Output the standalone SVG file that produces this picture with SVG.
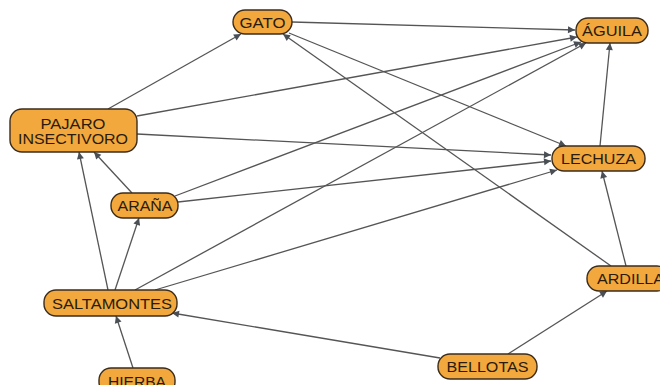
<svg xmlns="http://www.w3.org/2000/svg" width="660" height="385" viewBox="0 0 660 385">
<style>
.n rect{fill:#F2A83C;stroke:#3b2c1c;stroke-width:1.4}
.n text{font-family:"Liberation Sans",Arial,sans-serif;font-size:15.5px;fill:#2a1b0c;text-anchor:middle}
.e line{stroke:#555;stroke-width:1.3;marker-end:url(#a)}
</style>
<defs>
<marker id="a" viewBox="0 0 10 10" refX="10" refY="5" markerWidth="7" markerHeight="7" markerUnits="userSpaceOnUse" orient="auto" overflow="visible">
<path d="M0,0 L10,5 L0,10 z" fill="#4a4f55"/>
</marker>
</defs>
<rect width="660" height="385" fill="#fff"/>
<g id="connectors" class="e">
<line x1="108" y1="109" x2="241" y2="34"/>
<line x1="137" y1="116" x2="577" y2="37"/>
<line x1="137" y1="134" x2="551" y2="155"/>
<line x1="292" y1="22" x2="575" y2="30"/>
<line x1="289" y1="33" x2="566" y2="146"/>
<line x1="611" y1="266" x2="283" y2="34"/>
<line x1="132" y1="193" x2="94" y2="152"/>
<line x1="175" y1="196" x2="581" y2="42"/>
<line x1="178" y1="202" x2="551" y2="161"/>
<line x1="108" y1="290" x2="79" y2="152"/>
<line x1="115" y1="290" x2="139" y2="218"/>
<line x1="135" y1="290" x2="586" y2="43"/>
<line x1="155" y1="290" x2="557" y2="170"/>
<line x1="133" y1="368" x2="116" y2="316"/>
<line x1="440" y1="358" x2="172" y2="313"/>
<line x1="508" y1="354" x2="607" y2="291"/>
<line x1="626" y1="266" x2="602" y2="171"/>
<line x1="600" y1="146" x2="610" y2="43"/>
</g>
<g id="gato" class="n"><rect x="233" y="10" width="59" height="24" rx="12"/><text x="262.5" y="27.5" textLength="46" lengthAdjust="spacingAndGlyphs">GATO</text></g>
<g id="aguila" class="n"><rect x="576" y="18" width="72" height="25" rx="12"/><text x="612" y="36" textLength="60" lengthAdjust="spacingAndGlyphs">ÁGUILA</text></g>
<g id="lechuza" class="n"><rect x="552" y="146" width="93" height="25" rx="12"/><text x="598.5" y="164" textLength="75" lengthAdjust="spacingAndGlyphs">LECHUZA</text></g>
<g id="pajaro" class="n"><rect x="10" y="109" width="127" height="43" rx="12"/><text x="73" y="128.5" textLength="65" lengthAdjust="spacingAndGlyphs">PAJARO</text><text x="73" y="144" textLength="110" lengthAdjust="spacingAndGlyphs">INSECTIVORO</text></g>
<g id="arana" class="n"><rect x="111" y="193" width="67" height="25" rx="12"/><text x="145" y="211" textLength="55" lengthAdjust="spacingAndGlyphs">ARAÑA</text></g>
<g id="saltamontes" class="n"><rect x="44" y="290" width="133" height="26" rx="12"/><text x="112" y="308.5" textLength="120" lengthAdjust="spacingAndGlyphs">SALTAMONTES</text></g>
<g id="hierba" class="n"><rect x="99" y="368" width="76" height="26" rx="12"/><text x="137" y="386.5" textLength="58" lengthAdjust="spacingAndGlyphs">HIERBA</text></g>
<g id="bellotas" class="n"><rect x="438" y="354" width="99" height="25" rx="12"/><text x="487.5" y="372" textLength="82" lengthAdjust="spacingAndGlyphs">BELLOTAS</text></g>
<g id="ardilla" class="n"><rect x="587" y="266" width="82" height="25" rx="12"/><text x="630.5" y="284" textLength="67" lengthAdjust="spacingAndGlyphs">ARDILLA</text></g>
</svg>
